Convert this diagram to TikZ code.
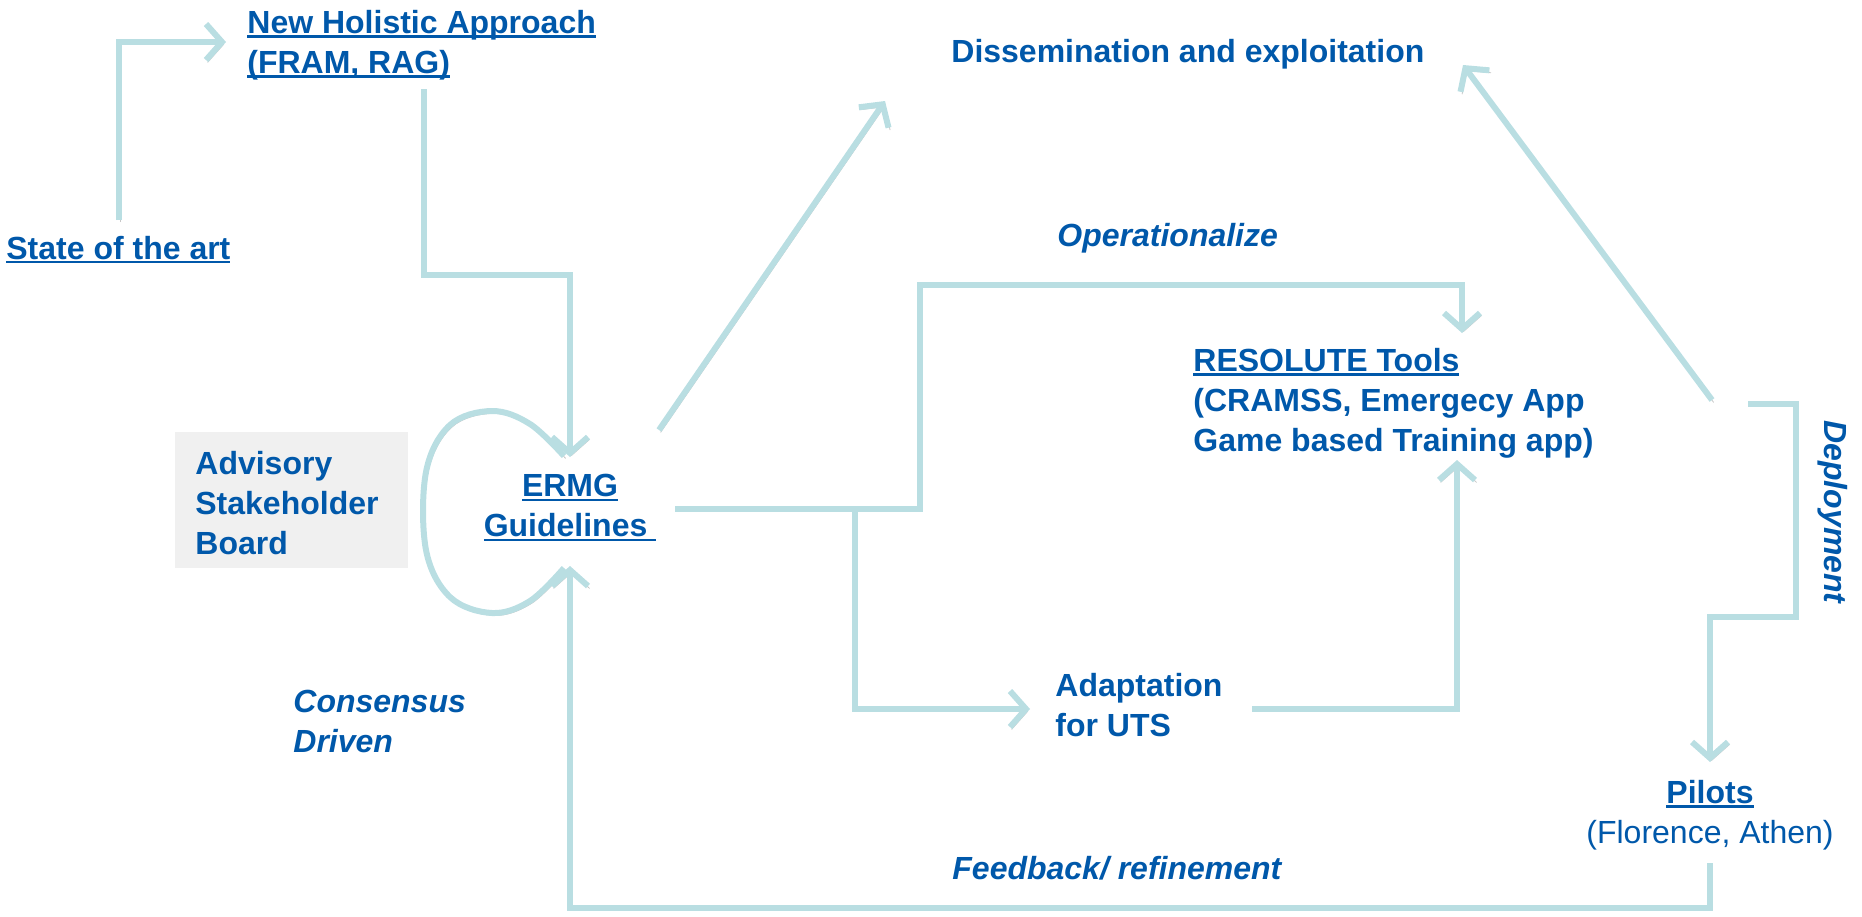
\documentclass[tikz,border=0pt]{standalone}
\usepackage{fontspec}
\setmainfont{Liberation Sans}
\usetikzlibrary{arrows.meta}
\definecolor{txtC}{RGB}{0,88,170}
\definecolor{lineC}{RGB}{185,222,226}
\definecolor{boxC}{RGB}{240,240,240}
\newcommand\myul[1]{\setbox0\hbox{#1}\rlap{\rule[-2.2pt]{\wd0}{1.1pt}}\box0}
\begin{document}
\begin{tikzpicture}[x=0.5pt,y=-0.5pt,
  lbl/.style={font=\fontsize{16}{20}\selectfont\bfseries, text=txtC, inner sep=0pt, align=left},
  ilbl/.style={lbl, font=\fontsize{16}{20}\selectfont\bfseries\itshape},
  conn/.style={draw=lineC, line width=3pt, line join=miter,
    preaction={draw=black!22, transform canvas={xshift=0.8pt,yshift=-1.2pt}}},
  arr/.style={conn, -{Straight Barb[length=8pt,width=18pt]}}
]
\useasboundingbox (0,0) rectangle (1862,916);

% nodes
\node[lbl, anchor=base west] (soa) at (6,259) {\myul{State of the art}};
\node[lbl, anchor=west] (nha) at (247,45) {\myul{New Holistic Approach}\\\myul{(FRAM, RAG)}};
\node[lbl, anchor=base west] (dis) at (951,62) {Dissemination and exploitation};
\node[ilbl, anchor=base west] (op) at (1057,246) {Operationalize};
\node[lbl, anchor=west] (res) at (1193,403) {\myul{RESOLUTE Tools}\\(CRAMSS, Emergecy App\\Game based Training app)};
\node[lbl, align=center] (ermg) at (570,508) {\myul{ERMG}\\\myul{Guidelines\ }};
\node[fill=boxC, anchor=north west, minimum width=116.5pt, minimum height=68pt, inner sep=0pt] (asbbox) at (175,432) {};
\node[lbl, anchor=west] (asb) at (195,503) {Advisory\\Stakeholder\\Board};
\node[lbl, anchor=west] (ada) at (1055,705) {Adaptation\\for UTS};
\node[lbl, align=center] (pil) at (1710,815) {\myul{Pilots}\\\mdseries(Florence, Athen)};
\node[ilbl, anchor=west] (fb) at (952,868) {Feedback/ refinement};
\node[ilbl, anchor=west] (cd) at (293,721) {Consensus\\Driven};
\node[ilbl, rotate=-90] (dep) at (1833,512) {Deployment};

% connector end points
\coordinate (soaS) at (119,220);
\coordinate (nhaE) at (226,42);
\coordinate (nhaS) at (424,89);
\coordinate (ermgT) at (570,457);
\coordinate (ermgB) at (570,566);
\coordinate (ermgUR) at (659,430);
\coordinate (disL) at (885,101);
\coordinate (ermgR) at (675,509);
\coordinate (resT) at (1462,333);
\coordinate (resB) at (1457,460);
\coordinate (adaL) at (1030,709);
\coordinate (adaR) at (1252,709);
\coordinate (pilUL) at (1712,400);
\coordinate (disR) at (1463,65);
\coordinate (depS) at (1748,404);
\coordinate (pilT) at (1710,762);
\coordinate (pilB) at (1710,863);

% connectors
\draw[arr] (soaS) |- (nhaE);
\draw[arr] (nhaS) -- (424,275) -| (ermgT);
\draw[conn] plot[smooth, tension=0.6] coordinates {(564,456) (530,424) (492,411) (450,425) (426,472) (426,550) (450,597) (492,613) (530,601) (564,568)};
\draw[arr] (ermgUR) -- (disL);
\draw[arr] (ermgR) -- (920,509) -- (920,285) -| (resT);
\draw[arr] (855,509) |- (adaL);
\draw[arr] (adaR) -| (resB);
\draw[arr] (pilUL) -- (disR);
\draw[arr] (depS) -- (1796,404) -- (1796,617) -| (pilT);
\draw[arr] (pilB) -- (1710,908) -| (ermgB);
\end{tikzpicture}
\end{document}
